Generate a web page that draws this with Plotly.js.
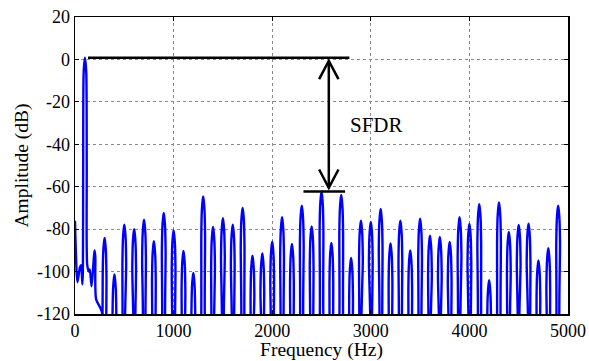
<!DOCTYPE html>
<html>
<head>
<meta charset="utf-8">
<script src="https://cdn.plot.ly/plotly-3.0.1.min.js"></script>
<style>html,body{margin:0;padding:0;background:#fff;}#chart{width:589px;height:361px;}</style>
</head>
<body>
<div id="chart"></div>
<script>
// Low-frequency part of the spectrum (DC region, fundamental, 2nd harmonic)
const lowFreq = [0, 25, 50, 62, 75, 80, 83, 88, 101, 114, 119, 124, 140, 150, 168, 192, 199, 206, 214, 273];
const lowAmp  = [-76, -105, -98, -97, -106, -100, -50, -6, 0.8, -6, -50, -97, -100, -99, -107, -93, -90, -93, -113, -119];

// Harmonic spur peaks (Hz, dB)
const harmFreq = [300, 400, 500, 600, 700, 800, 900, 1000, 1100, 1200, 1300, 1400, 1500, 1600, 1700, 1800,
  1900, 2000, 2100, 2200, 2300, 2400, 2500, 2600, 2700, 2800, 2900, 3000, 3100, 3200, 3300, 3400, 3500,
  3600, 3700, 3800, 3900, 4000, 4100, 4200, 4300, 4400, 4500, 4600, 4700, 4800, 4900];
const harmPeak = [-84.1, -101.4, -77.9, -80.0, -75.5, -85.7, -72.4, -80.6, -90.3, -100.6, -64.6, -79.0, -74.9, -77.9, -70.0, -92.5,
  -91.5, -85.9, -74.4, -87.0, -68.9, -78.7, -62.3, -86.5, -63.9, -93.6, -76.0, -76.6, -70.5, -86.8, -76.0, -90.0, -75.1,
  -83.1, -83.7, -86.0, -74.4, -77.6, -68.3, -104.1, -67.4, -81.3, -78.0, -77.4, -94.8, -89.0, -68.9];

const xTicks = [0, 1000, 2000, 3000, 4000, 5000];
const yTicks = [-120, -100, -80, -60, -40, -20, 0, 20];

// main-lobe drawing template (style): offset from peak in Hz and drop below peak in dB
const lobeOffset = [-23, -19, -14, -7, 0, 7, 14, 19, 23];
const lobeDrop   = [70, 18, 7, 2.5, 0, 2.5, 7, 18, 70];

const xs = lowFreq.slice();
const ys = lowAmp.slice();
harmFreq.forEach((f, i) => {
  lobeOffset.forEach((o, k) => { xs.push(f + o); ys.push(harmPeak[i] - lobeDrop[k]); });
});
xs.push(5000); ys.push(-150);

const carrier = Math.max(...lowAmp);
const spur = Math.max(...harmPeak);
const spurFreq = harmFreq[harmPeak.indexOf(spur)];

const font = 'Liberation Serif';
const arrowX = 2574;
const headDx = 98, headDy = 8.6;
const topTip = carrier - 1.5, botTip = spur + 1.8;

const trace = {
  x: xs, y: ys, type: 'scatter', mode: 'lines',
  line: {color: '#0000ff', width: 2.4, shape: 'spline', smoothing: 0.7},
  hoverinfo: 'skip', showlegend: false
};

const axisCommon = {
  showgrid: true, gridcolor: '#8a8a8a', gridwidth: 1, griddash: 'dot',
  ticks: 'inside', ticklen: 4, tickcolor: '#000', tickwidth: 1,
  showline: true, linecolor: '#000', linewidth: 1.5, mirror: 'ticks',
  zeroline: false, tickfont: {family: font, size: 18, color: '#000'}
};

const layout = {
  width: 589, height: 361,
  margin: {l: 75, r: 21, t: 17, b: 47},
  paper_bgcolor: '#fff', plot_bgcolor: '#fff',
  xaxis: Object.assign({}, axisCommon, {
    range: [0, 5000], tickvals: xTicks, ticktext: xTicks.map(String),
    title: {text: 'Frequency (Hz)', font: {family: font, size: 19.5, color: '#000'}, standoff: 2}
  }),
  yaxis: Object.assign({}, axisCommon, {
    range: [-120, 20], tickvals: yTicks, ticktext: yTicks.map(String),
    title: {text: 'Amplitude (dB)', font: {family: font, size: 19.5, color: '#000'}, standoff: 3}
  }),
  shapes: [
    {type: 'line', xref: 'x', yref: 'y', x0: 132, x1: 2783, y0: carrier, y1: carrier, line: {color: '#000', width: 2.5}, layer: 'above'},
    {type: 'line', xref: 'x', yref: 'y', x0: spurFreq - 183, x1: spurFreq + 239, y0: spur, y1: spur, line: {color: '#000', width: 2.5}, layer: 'above'},
    {type: 'line', xref: 'x', yref: 'y', x0: arrowX, x1: arrowX, y0: topTip, y1: botTip, line: {color: '#000', width: 2.5}, layer: 'above'},
    {type: 'path', xref: 'x', yref: 'y',
      path: `M ${arrowX - headDx} ${topTip - headDy} L ${arrowX} ${topTip} L ${arrowX + headDx} ${topTip - headDy}`,
      line: {color: '#000', width: 2.5}, layer: 'above'},
    {type: 'path', xref: 'x', yref: 'y',
      path: `M ${arrowX - headDx} ${botTip + headDy} L ${arrowX} ${botTip} L ${arrowX + headDx} ${botTip + headDy}`,
      line: {color: '#000', width: 2.5}, layer: 'above'}
  ],
  annotations: [
    {text: 'SFDR', x: 3058, y: -31.1, xref: 'x', yref: 'y', showarrow: false,
     font: {family: font, size: 21, color: '#000'}, xanchor: 'center', yanchor: 'middle'}
  ]
};

Plotly.newPlot('chart', [trace], layout, {displayModeBar: false, staticPlot: true});
</script>
</body>
</html>
